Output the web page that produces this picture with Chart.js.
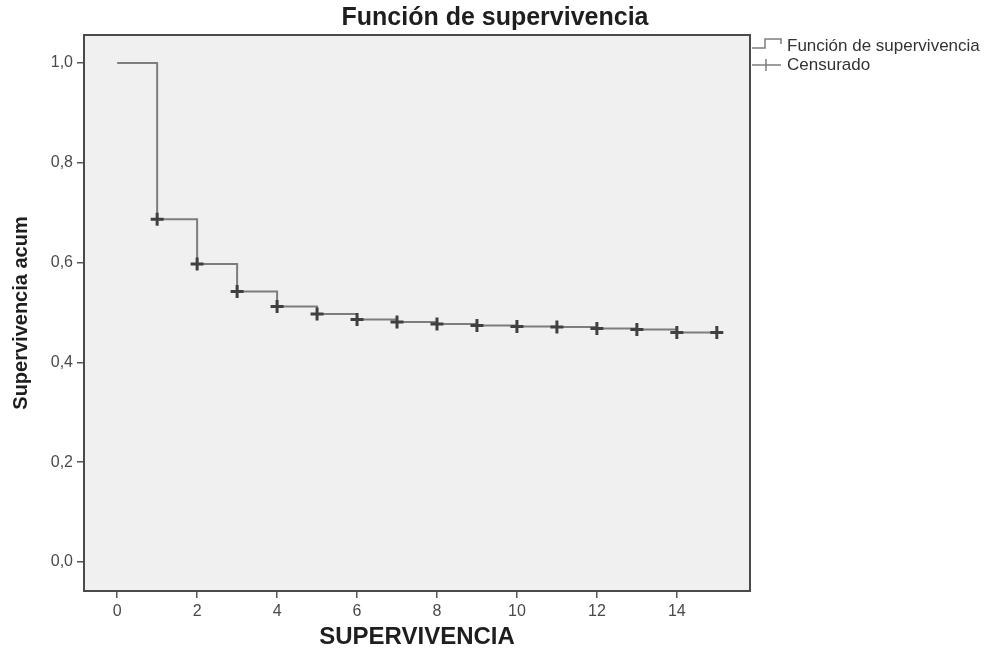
<!DOCTYPE html>
<html>
<head>
<meta charset="utf-8">
<script src="https://cdn.jsdelivr.net/npm/chart.js@4.4.1/dist/chart.umd.min.js"></script>
<style>
    html, body { margin: 0; padding: 0; background: #fff; }
</style>
</head>
<body>
<canvas id="kmChart" width="990" height="652"></canvas>
<script>
const chartTitle = "Función de supervivencia";
const xAxisTitle = "SUPERVIVENCIA";
const yAxisTitle = "Supervivencia acum";
const legendLabels = ["Función de supervivencia", "Censurado"];

// Kaplan-Meier steps
const times = [0, 1, 2, 3, 4, 5, 6, 7, 8, 9, 10, 11, 12, 13, 14, 15];
const survival = [1.0, 0.687, 0.597, 0.542, 0.512, 0.497, 0.486, 0.481, 0.477, 0.474, 0.472, 0.471, 0.468, 0.466, 0.460, 0.460];
const censoredTimes = [1, 2, 3, 4, 5, 6, 7, 8, 9, 10, 11, 12, 13, 14, 15];
const censoredSurvival = [0.687, 0.597, 0.542, 0.512, 0.497, 0.486, 0.481, 0.477, 0.474, 0.472, 0.471, 0.468, 0.466, 0.460, 0.460];

const xTicks = [0, 2, 4, 6, 8, 10, 12, 14];
const yTicks = [0, 0.2, 0.4, 0.6, 0.8, 1.0];

const lineColour = "#7d7d7d";
const markColour = "#404040";
const frameColour = "#4a4a4a";
const fontFamily = "'Liberation Sans', Arial, sans-serif";

const plotDecor = {
    id: "plotDecor",
    beforeDraw(chart) {
        const { ctx, chartArea: a } = chart;
        ctx.save();
        ctx.fillStyle = "#f0f0f0";
        ctx.fillRect(a.left, a.top, a.right - a.left, a.bottom - a.top);
        ctx.restore();
    },
    afterDraw(chart) {
        const { ctx, chartArea: a } = chart;
        ctx.save();
        // frame
        ctx.strokeStyle = frameColour;
        ctx.lineWidth = 2;
        ctx.strokeRect(a.left, a.top, a.right - a.left, a.bottom - a.top);

        // title, centred on the whole picture
        ctx.fillStyle = "#1e1e1e";
        ctx.font = "bold 25px " + fontFamily;
        ctx.textAlign = "center";
        ctx.textBaseline = "middle";
        ctx.fillText(chartTitle, chart.width / 2, 18);

        // legend
        const lx = a.right + 2;
        ctx.strokeStyle = lineColour;
        ctx.lineWidth = 1.5;
        ctx.beginPath();
        ctx.moveTo(lx, 48);
        ctx.lineTo(lx + 13, 48);
        ctx.lineTo(lx + 13, 39);
        ctx.lineTo(lx + 29, 39);
        ctx.lineTo(lx + 29, 44);
        ctx.stroke();

        ctx.beginPath();
        ctx.moveTo(lx, 65);
        ctx.lineTo(lx + 29, 65);
        ctx.moveTo(lx + 14, 59);
        ctx.lineTo(lx + 14, 71);
        ctx.stroke();

        ctx.fillStyle = "#333";
        ctx.font = "17px " + fontFamily;
        ctx.textAlign = "left";
        ctx.fillText(legendLabels[0], lx + 35, 46);
        ctx.fillText(legendLabels[1], lx + 35, 65);
        ctx.restore();
    }
};

new Chart(document.getElementById("kmChart"), {
    type: "scatter",
    data: {
        datasets: [
            {
                label: legendLabels[0],
                data: times.map((t, i) => ({ x: t, y: survival[i] })),
                showLine: true,
                stepped: "before",
                borderColor: lineColour,
                borderWidth: 2,
                pointRadius: 0,
                fill: false,
                order: 1
            },
            {
                label: legendLabels[1],
                data: censoredTimes.map((t, i) => ({ x: t, y: censoredSurvival[i] })),
                showLine: false,
                pointStyle: "cross",
                pointRadius: 6.5,
                pointBorderWidth: 3,
                pointBorderColor: markColour,
                pointBackgroundColor: markColour,
                order: 0
            }
        ]
    },
    options: {
        responsive: false,
        animation: false,
        devicePixelRatio: 1,
        layout: { padding: { top: 35, right: 240, left: 0, bottom: 0 } },
        plugins: {
            legend: { display: false },
            title: { display: false },
            tooltip: { enabled: false }
        },
        scales: {
            x: {
                type: "linear",
                min: -0.83,
                max: 15.83,
                afterBuildTicks: scale => { scale.ticks = xTicks.map(v => ({ value: v })); },
                afterFit: scale => { scale.height = 61; },
                border: { display: false },
                grid: { drawOnChartArea: false, drawTicks: true, tickLength: 7, color: "#555", lineWidth: 1.5 },
                ticks: {
                    color: "#4a4a4a",
                    padding: 4,
                    font: { size: 16, family: fontFamily },
                    callback: v => String(v)
                },
                title: {
                    display: true,
                    text: xAxisTitle,
                    color: "#1e1e1e",
                    font: { size: 24, weight: "bold", family: fontFamily },
                    padding: { top: 0, bottom: 0 }
                }
            },
            y: {
                type: "linear",
                min: -0.058,
                max: 1.056,
                afterBuildTicks: scale => { scale.ticks = yTicks.map(v => ({ value: v })); },
                afterFit: scale => { scale.width = 84; },
                border: { display: false },
                grid: { drawOnChartArea: false, drawTicks: true, tickLength: 7, color: "#555", lineWidth: 1.5 },
                ticks: {
                    color: "#4a4a4a",
                    padding: 4,
                    font: { size: 16, family: fontFamily },
                    callback: v => v.toFixed(1).replace(".", ",")
                },
                title: {
                    display: true,
                    text: yAxisTitle,
                    color: "#1e1e1e",
                    font: { size: 20, weight: "bold", family: fontFamily },
                    padding: { top: 9, bottom: 0 }
                }
            }
        }
    },
    plugins: [plotDecor]
});
</script>
</body>
</html>
